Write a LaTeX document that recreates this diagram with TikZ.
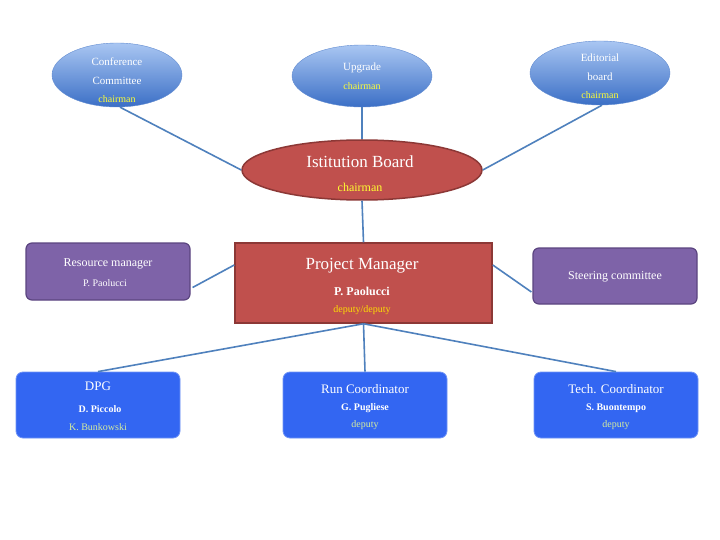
\documentclass[tikz,border=0pt]{standalone}
\usepackage{fontspec}
\setmainfont{Liberation Serif}
\usetikzlibrary{shapes.geometric}

\definecolor{linkblue}{HTML}{4F81BD}
\definecolor{ellipsetop}{HTML}{A9C6F2}
\definecolor{ellipsebot}{HTML}{3B6FC6}
\definecolor{boardred}{HTML}{C0504D}
\definecolor{boardedge}{HTML}{8C3836}
\definecolor{mgrpurple}{HTML}{7E63A8}
\definecolor{mgredge}{HTML}{5B4580}
\definecolor{coordblue}{HTML}{3366F2}
\definecolor{chairyellow}{HTML}{FFFF33}

\tikzset{
  link/.style={draw=linkblue,line width=1.6pt},
  committee/.style={ellipse,draw=ellipsebot!80!white,top color=ellipsetop,bottom color=ellipsebot,
    text=white,align=center,inner sep=0pt,font=\fontsize{11}{14}\selectfont},
  manager/.style={rectangle,rounded corners=6pt,fill=mgrpurple,draw=mgredge,line width=1.2pt,
    text=white,align=center,inner sep=0pt},
  coordinator/.style={rectangle,rounded corners=7pt,fill=coordblue,draw=coordblue!70!white,line width=0.8pt,
    text=white,align=center,inner sep=0pt},
  chair/.style={text=chairyellow,font=\fontsize{10}{12}\selectfont},
  deputy/.style={text=yellow!60!green!40!white,font=\fontsize{10}{12}\selectfont},
}

\begin{document}
\begin{tikzpicture}[x=1pt,y=-1pt]
\useasboundingbox[fill=white] (0,0) rectangle (720,540);

% ========================
% UPPER COMMITTEES
% ========================
\node[committee,minimum width=130,minimum height=64] (conf) at (117,75) {};
\node[text=white,font=\fontsize{11}{14}\selectfont] at (117,62) {Conference};
\node[text=white,font=\fontsize{11}{14}\selectfont] at (117,81) {Committee};
\node[chair] at (117,99) {chairman};

\node[committee,minimum width=140,minimum height=62] (upg) at (362,76) {};
\node[text=white,font=\fontsize{11}{14}\selectfont] at (362,68) {Upgrade};
\node[chair] at (362,86) {chairman};

\node[committee,minimum width=140,minimum height=64] (edit) at (600,73) {};
\node[text=white,font=\fontsize{11}{14}\selectfont] at (600,58) {Editorial};
\node[text=white,font=\fontsize{11}{14}\selectfont] at (600,77) {board};
\node[chair] at (600,95) {chairman};

% institution board
\node[ellipse,fill=boardred,draw=boardedge,line width=1.5pt,minimum width=240,minimum height=60,inner sep=0pt] (ib) at (362,170) {};
\node[text=white,font=\fontsize{17}{20}\selectfont] at (360,162) {Istitution Board};
\node[chair,font=\fontsize{12}{14}\selectfont] at (360,187) {chairman};

% ========================
% MANAGEMENT ROW
% ========================
\node[manager,minimum width=164,minimum height=57] (res) at (108,271.5) {};
\node[text=white,font=\fontsize{12}{14}\selectfont] at (108,264) {Resource manager};
\node[text=white,font=\fontsize{10}{12}\selectfont] at (105,283) {P. Paolucci};

\node[rectangle,fill=boardred,draw=boardedge,line width=1.5pt,minimum width=257,minimum height=80,inner sep=0pt] (pm) at (363.5,283) {};
\node[text=white,font=\fontsize{17}{20}\selectfont] at (362,266) {Project Manager};
\node[text=white,font=\bfseries\fontsize{12}{14}\selectfont] at (362,291) {P. Paolucci};
\node[chair,text=yellow!80!orange] at (362,310) {deputy/deputy};

\node[manager,minimum width=164,minimum height=56] (steer) at (615,276) {};
\node[text=white,font=\fontsize{12}{14}\selectfont] at (615,277) {Steering committee};

% ========================
% COORDINATORS
% ========================
\node[coordinator,minimum width=164,minimum height=66] (dpg) at (98,405) {};
\node[text=white,font=\fontsize{13}{15}\selectfont] at (98,386) {DPG};
\node[text=white,font=\bfseries\fontsize{10}{12}\selectfont] at (100,409) {D. Piccolo};
\node[deputy] at (98,427) {K. Bunkowski};

\node[coordinator,minimum width=164,minimum height=66] (run) at (365,405) {};
\node[text=white,font=\fontsize{13}{15}\selectfont] at (365,389) {Run Coordinator};
\node[text=white,font=\bfseries\fontsize{10}{12}\selectfont] at (365,408) {G. Pugliese};
\node[deputy] at (365,425) {deputy};

\node[coordinator,minimum width=164,minimum height=66] (tech) at (616,405) {};
\node[text=white,font=\fontsize{13}{15}\selectfont] at (616,389) {Tech. Coordinator};
\node[text=white,font=\bfseries\fontsize{10}{12}\selectfont] at (616,408) {S. Buontempo};
\node[deputy] at (616,425) {deputy};

% ========================
% CONNECTORS
% ========================
\begin{scope}[on background layer/.style={}]
\draw[link] (conf.south) ++(3,0) -- (ib.west);
\draw[link] (upg.south) -- (ib.north);
\draw[link] (edit.south) ++(2,0) -- (ib.east);
\draw[link] (ib.south) -- (pm.north);
\draw[link] (res.east) ++(2,16) -- ([yshift=18]pm.west);
\draw[link] (steer.west) ++(-1,16) -- ([yshift=18]pm.east);
\draw[link] (pm.south) -- (dpg.north);
\draw[link] (pm.south) -- (run.north);
\draw[link] (pm.south) -- (tech.north);
\end{scope}

\end{tikzpicture}
\end{document}
